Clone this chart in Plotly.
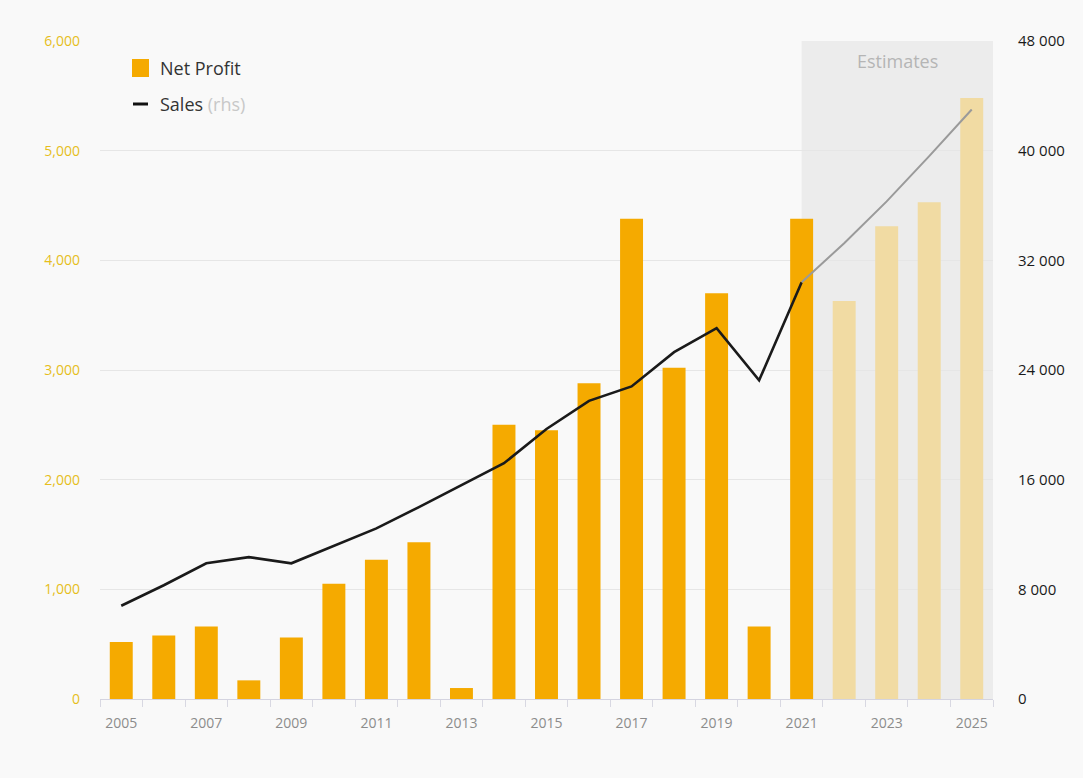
import plotly.graph_objects as go

# Data
years = list(range(2005, 2026))
net_profit = [520, 580, 660, 170, 560, 1050, 1270, 1430, 100, 2500, 2450,
              2880, 4380, 3020, 3700, 660, 4380, 3630, 4310, 4530, 5480]
sales = [6800, 8300, 9900, 10350, 9900, 11150, 12450, 14000, 15600, 17200,
         19700, 21750, 22800, 25300, 27050, 23250, 30400, 33250, 36300, 39600, 43000]
first_estimate_year = 2022

left_ticks = [0, 1000, 2000, 3000, 4000, 5000, 6000]
right_ticks = [0, 8000, 16000, 24000, 32000, 40000, 48000]
x_label_years = list(range(2005, 2026, 2))

n_act = years.index(first_estimate_year)
act_years, est_years = years[:n_act], years[n_act:]
act_profit, est_profit = net_profit[:n_act], net_profit[n_act:]

ORANGE = "#F5AA00"
ORANGE_LIGHT = "#F1DBA3"
FONT = "Open Sans, Noto Sans, sans-serif"

W, H = 1083, 778
ML, MR, MT, MB = 100, 90, 41, 79
PW, PH = W - ML - MR, H - MT - MB


def px_x(p):
    """pixel column -> paper x"""
    return (p - ML) / PW


def px_y(p):
    """pixel row -> paper y"""
    return (H - MB - p) / PH


fig = go.Figure()

fig.add_trace(go.Bar(
    x=act_years, y=act_profit, name="Net Profit", showlegend=False,
    marker=dict(color=ORANGE, line=dict(width=0)), width=0.54,
))
fig.add_trace(go.Bar(
    x=est_years, y=est_profit, name="Net Profit (est.)", showlegend=False,
    marker=dict(color=ORANGE_LIGHT, line=dict(width=0)), width=0.54,
))
fig.add_trace(go.Scatter(
    x=years[:n_act], y=sales[:n_act], yaxis="y2", mode="lines",
    name="Sales", showlegend=False,
    line=dict(color="#1a1a1a", width=2.6),
))
fig.add_trace(go.Scatter(
    x=years[n_act - 1:], y=sales[n_act - 1:], yaxis="y2", mode="lines",
    name="Sales (est.)", showlegend=False, line=dict(color="#9a9a9a", width=2),
))

# shaded band behind the estimate years
fig.add_shape(type="rect", xref="x", yref="paper",
              x0=first_estimate_year - 1, x1=2025.5, y0=0, y1=1,
              fillcolor="#ececec", line=dict(width=0), layer="below")
fig.add_annotation(x=(first_estimate_year - 1 + 2025.5) / 2, y=px_y(61),
                   xref="x", yref="paper", yanchor="middle",
                   text="Estimates", showarrow=False,
                   font=dict(family=FONT, size=18, color="#b5b5b5"))

# legend key
fig.add_shape(type="rect", xref="paper", yref="paper",
              x0=px_x(132), x1=px_x(149), y0=px_y(77), y1=px_y(59),
              fillcolor=ORANGE, line=dict(width=0))
fig.add_shape(type="line", xref="paper", yref="paper",
              x0=px_x(133), x1=px_x(148), y0=px_y(104), y1=px_y(104),
              line=dict(color="#111111", width=3))
fig.add_annotation(x=px_x(158), y=px_y(68), xref="paper", yref="paper",
                   xanchor="left", yanchor="middle", showarrow=False,
                   text="Net Profit", font=dict(family=FONT, size=18, color="#333333"))
fig.add_annotation(x=px_x(158), y=px_y(104), xref="paper", yref="paper",
                   xanchor="left", yanchor="middle", showarrow=False,
                   text="Sales <span style='color:#c8c8c8'>(rhs)</span>",
                   font=dict(family=FONT, size=18, color="#333333"))

boundaries = [y - 0.5 for y in years] + [years[-1] + 0.5]

fig.update_layout(
    width=W, height=H,
    margin=dict(l=ML, r=MR, t=MT, b=MB),
    paper_bgcolor="#f9f9f9", plot_bgcolor="#f9f9f9",
    barmode="overlay",
    font=dict(family=FONT),
    showlegend=False,
    xaxis=dict(
        range=[2004.5, 2025.5], tickmode="array", tickvals=x_label_years,
        ticktext=[str(y) for y in x_label_years], ticks="",
        tickfont=dict(size=14, color="#8c8c8c"),
        showline=True, linecolor="#d4d4e0", linewidth=1, showgrid=False, zeroline=False,
        minor=dict(tickmode="array", tickvals=boundaries, ticks="outside",
                   ticklen=7, tickcolor="#d8d8e2", tickwidth=1, showgrid=False),
        ticklabelstandoff=11,
    ),
    yaxis=dict(
        range=[0, 6000], tickmode="array", tickvals=left_ticks,
        ticktext=[f"{v:,}" for v in left_ticks],
        tickfont=dict(size=14, color="#E6BE1C"),
        showgrid=True, gridcolor="#e6e6e6", gridwidth=1, zeroline=False,
        showline=False, ticks="", ticklabelstandoff=19,
    ),
    yaxis2=dict(
        range=[0, 48000], overlaying="y", side="right", tickmode="array",
        tickvals=right_ticks,
        ticktext=[f"{v:,}".replace(",", " ") for v in right_ticks],
        tickfont=dict(size=15, color="#1a1a1a"),
        showgrid=False, zeroline=False, showline=False, ticks="",
        ticklabelstandoff=24,
    ),
)

fig.write_html("out.html")
